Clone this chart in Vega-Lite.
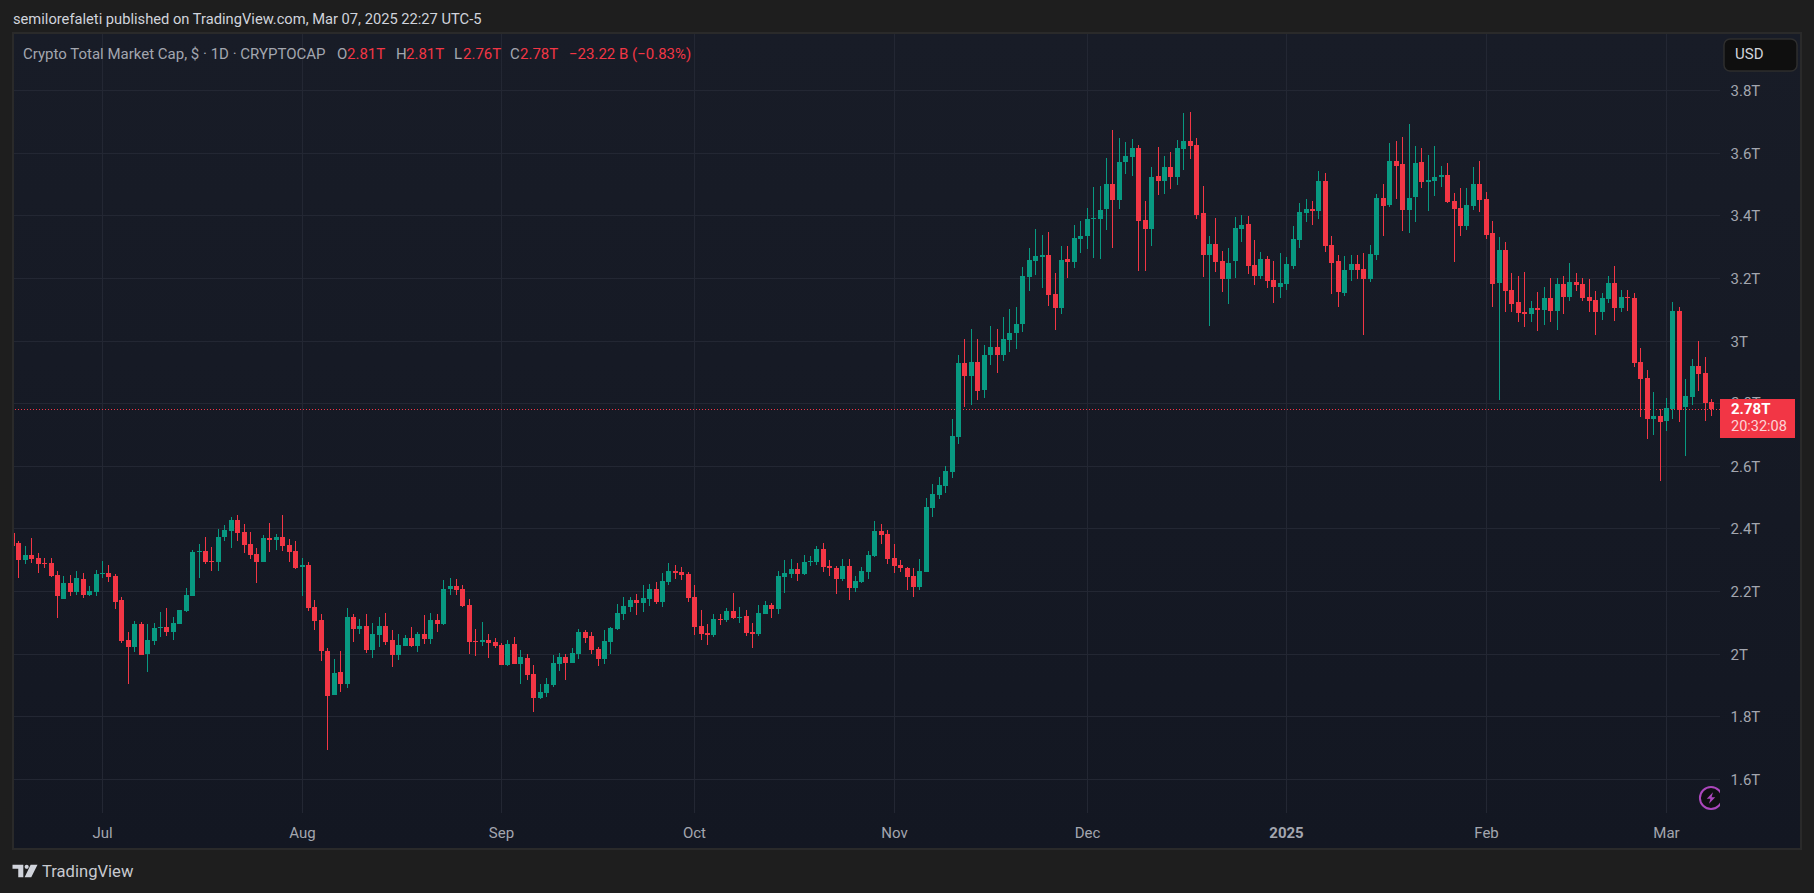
{
"$schema":"https://vega.github.io/schema/vega-lite/v6.json",
"width":1707,"height":780,
"autosize":"none",
"padding":{"left":13,"top":33,"right":94,"bottom":80},
"background":"#1e1e1e",
"config":{"view":{"stroke":null},"font":"Roboto"},
"datasets":{
"panel":[{"x0":"2024-06-17T04:00:00Z","x1":"2025-03-22T00:00:00Z","p0":3.982,"p1":1.3765}],
"levels":[{"price":1.6},{"price":1.8},{"price":2.0},{"price":2.2},{"price":2.4},{"price":2.6},{"price":2.8},{"price":3.0},{"price":3.2},{"price":3.4},{"price":3.6},{"price":3.8}],
"months":[{"date":"2024-07-01"},{"date":"2024-08-01"},{"date":"2024-09-01"},{"date":"2024-10-01"},{"date":"2024-11-01"},{"date":"2024-12-01"},{"date":"2025-01-01"},{"date":"2025-02-01"},{"date":"2025-03-01"}],
"candles":[
{"date":"2024-06-17","open":2.385,"high":2.385,"low":2.345,"close":2.345},
{"date":"2024-06-18","open":2.354,"high":2.36,"low":2.242,"close":2.299},
{"date":"2024-06-19","open":2.299,"high":2.344,"low":2.287,"close":2.315},
{"date":"2024-06-20","open":2.315,"high":2.37,"low":2.29,"close":2.303},
{"date":"2024-06-21","open":2.306,"high":2.322,"low":2.258,"close":2.287},
{"date":"2024-06-22","open":2.29,"high":2.306,"low":2.274,"close":2.287},
{"date":"2024-06-23","open":2.29,"high":2.306,"low":2.245,"close":2.248},
{"date":"2024-06-24","open":2.252,"high":2.264,"low":2.114,"close":2.184},
{"date":"2024-06-25","open":2.175,"high":2.248,"low":2.175,"close":2.226},
{"date":"2024-06-26","open":2.226,"high":2.252,"low":2.184,"close":2.197},
{"date":"2024-06-27","open":2.197,"high":2.264,"low":2.188,"close":2.242},
{"date":"2024-06-28","open":2.239,"high":2.258,"low":2.178,"close":2.188},
{"date":"2024-06-29","open":2.188,"high":2.216,"low":2.184,"close":2.2},
{"date":"2024-06-30","open":2.197,"high":2.267,"low":2.184,"close":2.255},
{"date":"2024-07-01","open":2.255,"high":2.296,"low":2.242,"close":2.258},
{"date":"2024-07-02","open":2.258,"high":2.283,"low":2.229,"close":2.245},
{"date":"2024-07-03","open":2.248,"high":2.255,"low":2.143,"close":2.165},
{"date":"2024-07-04","open":2.172,"high":2.181,"low":2.034,"close":2.041},
{"date":"2024-07-05","open":2.044,"high":2.069,"low":1.903,"close":2.021},
{"date":"2024-07-06","open":2.021,"high":2.105,"low":2.005,"close":2.095},
{"date":"2024-07-07","open":2.095,"high":2.101,"low":1.996,"close":1.996},
{"date":"2024-07-08","open":1.999,"high":2.095,"low":1.942,"close":2.044},
{"date":"2024-07-09","open":2.041,"high":2.098,"low":2.028,"close":2.082},
{"date":"2024-07-10","open":2.082,"high":2.133,"low":2.053,"close":2.085},
{"date":"2024-07-11","open":2.085,"high":2.146,"low":2.057,"close":2.069},
{"date":"2024-07-12","open":2.069,"high":2.117,"low":2.044,"close":2.098},
{"date":"2024-07-13","open":2.095,"high":2.14,"low":2.095,"close":2.14},
{"date":"2024-07-14","open":2.137,"high":2.21,"low":2.133,"close":2.188},
{"date":"2024-07-15","open":2.184,"high":2.331,"low":2.184,"close":2.325},
{"date":"2024-07-16","open":2.325,"high":2.351,"low":2.242,"close":2.328},
{"date":"2024-07-17","open":2.328,"high":2.373,"low":2.287,"close":2.293},
{"date":"2024-07-18","open":2.296,"high":2.341,"low":2.264,"close":2.293},
{"date":"2024-07-19","open":2.293,"high":2.398,"low":2.264,"close":2.373},
{"date":"2024-07-20","open":2.373,"high":2.411,"low":2.36,"close":2.395},
{"date":"2024-07-21","open":2.392,"high":2.437,"low":2.338,"close":2.427},
{"date":"2024-07-22","open":2.427,"high":2.443,"low":2.36,"close":2.386},
{"date":"2024-07-23","open":2.389,"high":2.414,"low":2.322,"close":2.347},
{"date":"2024-07-24","open":2.351,"high":2.389,"low":2.303,"close":2.315},
{"date":"2024-07-25","open":2.319,"high":2.338,"low":2.226,"close":2.293},
{"date":"2024-07-26","open":2.293,"high":2.379,"low":2.293,"close":2.37},
{"date":"2024-07-27","open":2.37,"high":2.418,"low":2.325,"close":2.363},
{"date":"2024-07-28","open":2.363,"high":2.383,"low":2.331,"close":2.373},
{"date":"2024-07-29","open":2.373,"high":2.443,"low":2.328,"close":2.344},
{"date":"2024-07-30","open":2.347,"high":2.367,"low":2.293,"close":2.325},
{"date":"2024-07-31","open":2.328,"high":2.36,"low":2.271,"close":2.274},
{"date":"2024-08-01","open":2.277,"high":2.306,"low":2.184,"close":2.283},
{"date":"2024-08-02","open":2.283,"high":2.293,"low":2.137,"close":2.146},
{"date":"2024-08-03","open":2.149,"high":2.172,"low":2.076,"close":2.105},
{"date":"2024-08-04","open":2.108,"high":2.127,"low":1.977,"close":2.009},
{"date":"2024-08-05","open":2.009,"high":2.018,"low":1.692,"close":1.865},
{"date":"2024-08-06","open":1.868,"high":1.983,"low":1.868,"close":1.938},
{"date":"2024-08-07","open":1.942,"high":2.009,"low":1.878,"close":1.903},
{"date":"2024-08-08","open":1.903,"high":2.146,"low":1.89,"close":2.117},
{"date":"2024-08-09","open":2.117,"high":2.127,"low":2.037,"close":2.079},
{"date":"2024-08-10","open":2.079,"high":2.111,"low":2.063,"close":2.089},
{"date":"2024-08-11","open":2.089,"high":2.127,"low":2.002,"close":2.012},
{"date":"2024-08-12","open":2.012,"high":2.098,"low":1.986,"close":2.063},
{"date":"2024-08-13","open":2.06,"high":2.117,"low":2.021,"close":2.089},
{"date":"2024-08-14","open":2.089,"high":2.13,"low":2.028,"close":2.037},
{"date":"2024-08-15","open":2.044,"high":2.076,"low":1.958,"close":1.996},
{"date":"2024-08-16","open":1.996,"high":2.063,"low":1.98,"close":2.028},
{"date":"2024-08-17","open":2.025,"high":2.06,"low":2.025,"close":2.05},
{"date":"2024-08-18","open":2.05,"high":2.085,"low":2.021,"close":2.025},
{"date":"2024-08-19","open":2.025,"high":2.069,"low":2.005,"close":2.063},
{"date":"2024-08-20","open":2.063,"high":2.124,"low":2.031,"close":2.047},
{"date":"2024-08-21","open":2.047,"high":2.13,"low":2.031,"close":2.108},
{"date":"2024-08-22","open":2.108,"high":2.127,"low":2.069,"close":2.095},
{"date":"2024-08-23","open":2.095,"high":2.236,"low":2.092,"close":2.207},
{"date":"2024-08-24","open":2.207,"high":2.242,"low":2.188,"close":2.216},
{"date":"2024-08-25","open":2.216,"high":2.239,"low":2.188,"close":2.204},
{"date":"2024-08-26","open":2.207,"high":2.22,"low":2.149,"close":2.152},
{"date":"2024-08-27","open":2.156,"high":2.175,"low":1.999,"close":2.037},
{"date":"2024-08-28","open":2.041,"high":2.079,"low":1.993,"close":2.037},
{"date":"2024-08-29","open":2.037,"high":2.101,"low":2.025,"close":2.044},
{"date":"2024-08-30","open":2.044,"high":2.063,"low":1.986,"close":2.034},
{"date":"2024-08-31","open":2.037,"high":2.05,"low":2.018,"close":2.025},
{"date":"2024-09-01","open":2.028,"high":2.034,"low":1.964,"close":1.964},
{"date":"2024-09-02","open":1.964,"high":2.044,"low":1.961,"close":2.031},
{"date":"2024-09-03","open":2.031,"high":2.053,"low":1.967,"close":1.967},
{"date":"2024-09-04","open":1.967,"high":2.012,"low":1.903,"close":1.99},
{"date":"2024-09-05","open":1.986,"high":1.999,"low":1.916,"close":1.932},
{"date":"2024-09-06","open":1.935,"high":1.964,"low":1.814,"close":1.858},
{"date":"2024-09-07","open":1.858,"high":1.903,"low":1.855,"close":1.878},
{"date":"2024-09-08","open":1.874,"high":1.922,"low":1.862,"close":1.903},
{"date":"2024-09-09","open":1.9,"high":1.996,"low":1.894,"close":1.97},
{"date":"2024-09-10","open":1.967,"high":2.002,"low":1.945,"close":1.99},
{"date":"2024-09-11","open":1.99,"high":1.999,"low":1.916,"close":1.97},
{"date":"2024-09-12","open":1.97,"high":2.018,"low":1.97,"close":2.002},
{"date":"2024-09-13","open":1.999,"high":2.079,"low":1.983,"close":2.069},
{"date":"2024-09-14","open":2.069,"high":2.076,"low":2.034,"close":2.05},
{"date":"2024-09-15","open":2.057,"high":2.069,"low":1.999,"close":2.012},
{"date":"2024-09-16","open":2.015,"high":2.021,"low":1.961,"close":1.983},
{"date":"2024-09-17","open":1.983,"high":2.076,"low":1.967,"close":2.041},
{"date":"2024-09-18","open":2.037,"high":2.085,"low":1.999,"close":2.082},
{"date":"2024-09-19","open":2.079,"high":2.159,"low":2.076,"close":2.13},
{"date":"2024-09-20","open":2.127,"high":2.181,"low":2.108,"close":2.152},
{"date":"2024-09-21","open":2.149,"high":2.181,"low":2.133,"close":2.172},
{"date":"2024-09-22","open":2.172,"high":2.191,"low":2.124,"close":2.162},
{"date":"2024-09-23","open":2.162,"high":2.22,"low":2.133,"close":2.178},
{"date":"2024-09-24","open":2.175,"high":2.223,"low":2.152,"close":2.207},
{"date":"2024-09-25","open":2.207,"high":2.229,"low":2.159,"close":2.165},
{"date":"2024-09-26","open":2.165,"high":2.258,"low":2.149,"close":2.232},
{"date":"2024-09-27","open":2.229,"high":2.29,"low":2.22,"close":2.264},
{"date":"2024-09-28","open":2.264,"high":2.283,"low":2.239,"close":2.258},
{"date":"2024-09-29","open":2.261,"high":2.277,"low":2.236,"close":2.252},
{"date":"2024-09-30","open":2.255,"high":2.261,"low":2.165,"close":2.178},
{"date":"2024-10-01","open":2.181,"high":2.22,"low":2.06,"close":2.085},
{"date":"2024-10-02","open":2.089,"high":2.14,"low":2.044,"close":2.063},
{"date":"2024-10-03","open":2.066,"high":2.095,"low":2.028,"close":2.06},
{"date":"2024-10-04","open":2.06,"high":2.127,"low":2.053,"close":2.111},
{"date":"2024-10-05","open":2.111,"high":2.127,"low":2.092,"close":2.108},
{"date":"2024-10-06","open":2.108,"high":2.146,"low":2.101,"close":2.137},
{"date":"2024-10-07","open":2.137,"high":2.194,"low":2.111,"close":2.114},
{"date":"2024-10-08","open":2.114,"high":2.149,"low":2.098,"close":2.117},
{"date":"2024-10-09","open":2.121,"high":2.14,"low":2.057,"close":2.066},
{"date":"2024-10-10","open":2.069,"high":2.098,"low":2.018,"close":2.063},
{"date":"2024-10-11","open":2.063,"high":2.156,"low":2.057,"close":2.13},
{"date":"2024-10-12","open":2.127,"high":2.168,"low":2.127,"close":2.156},
{"date":"2024-10-13","open":2.156,"high":2.162,"low":2.114,"close":2.143},
{"date":"2024-10-14","open":2.143,"high":2.264,"low":2.127,"close":2.248},
{"date":"2024-10-15","open":2.245,"high":2.299,"low":2.194,"close":2.258},
{"date":"2024-10-16","open":2.255,"high":2.303,"low":2.242,"close":2.271},
{"date":"2024-10-17","open":2.271,"high":2.29,"low":2.232,"close":2.255},
{"date":"2024-10-18","open":2.255,"high":2.315,"low":2.252,"close":2.293},
{"date":"2024-10-19","open":2.293,"high":2.312,"low":2.28,"close":2.296},
{"date":"2024-10-20","open":2.293,"high":2.344,"low":2.283,"close":2.335},
{"date":"2024-10-21","open":2.335,"high":2.354,"low":2.261,"close":2.277},
{"date":"2024-10-22","open":2.28,"high":2.299,"low":2.248,"close":2.274},
{"date":"2024-10-23","open":2.274,"high":2.28,"low":2.191,"close":2.239},
{"date":"2024-10-24","open":2.239,"high":2.303,"low":2.232,"close":2.28},
{"date":"2024-10-25","open":2.28,"high":2.303,"low":2.172,"close":2.21},
{"date":"2024-10-26","open":2.21,"high":2.248,"low":2.197,"close":2.232},
{"date":"2024-10-27","open":2.229,"high":2.277,"low":2.226,"close":2.264},
{"date":"2024-10-28","open":2.261,"high":2.328,"low":2.239,"close":2.315},
{"date":"2024-10-29","open":2.312,"high":2.424,"low":2.309,"close":2.392},
{"date":"2024-10-30","open":2.392,"high":2.414,"low":2.351,"close":2.379},
{"date":"2024-10-31","open":2.383,"high":2.395,"low":2.287,"close":2.303},
{"date":"2024-11-01","open":2.306,"high":2.351,"low":2.258,"close":2.28},
{"date":"2024-11-02","open":2.283,"high":2.299,"low":2.261,"close":2.274},
{"date":"2024-11-03","open":2.274,"high":2.277,"low":2.204,"close":2.245},
{"date":"2024-11-04","open":2.248,"high":2.274,"low":2.181,"close":2.213},
{"date":"2024-11-05","open":2.213,"high":2.303,"low":2.204,"close":2.264},
{"date":"2024-11-06","open":2.261,"high":2.498,"low":2.261,"close":2.469},
{"date":"2024-11-07","open":2.466,"high":2.542,"low":2.437,"close":2.51},
{"date":"2024-11-08","open":2.507,"high":2.565,"low":2.494,"close":2.539},
{"date":"2024-11-09","open":2.536,"high":2.6,"low":2.514,"close":2.584},
{"date":"2024-11-10","open":2.581,"high":2.75,"low":2.561,"close":2.696},
{"date":"2024-11-11","open":2.692,"high":2.954,"low":2.67,"close":2.929},
{"date":"2024-11-12","open":2.929,"high":3.005,"low":2.788,"close":2.887},
{"date":"2024-11-13","open":2.887,"high":3.037,"low":2.795,"close":2.932},
{"date":"2024-11-14","open":2.932,"high":3.005,"low":2.811,"close":2.839},
{"date":"2024-11-15","open":2.842,"high":2.986,"low":2.817,"close":2.954},
{"date":"2024-11-16","open":2.954,"high":3.047,"low":2.922,"close":2.98},
{"date":"2024-11-17","open":2.98,"high":3.037,"low":2.897,"close":2.954},
{"date":"2024-11-18","open":2.954,"high":3.076,"low":2.935,"close":3.005},
{"date":"2024-11-19","open":3.002,"high":3.101,"low":2.964,"close":3.025},
{"date":"2024-11-20","open":3.025,"high":3.108,"low":2.973,"close":3.053},
{"date":"2024-11-21","open":3.053,"high":3.235,"low":3.028,"close":3.207},
{"date":"2024-11-22","open":3.204,"high":3.296,"low":3.159,"close":3.258},
{"date":"2024-11-23","open":3.255,"high":3.357,"low":3.21,"close":3.271},
{"date":"2024-11-24","open":3.267,"high":3.338,"low":3.168,"close":3.274},
{"date":"2024-11-25","open":3.274,"high":3.347,"low":3.111,"close":3.146},
{"date":"2024-11-26","open":3.149,"high":3.216,"low":3.034,"close":3.104},
{"date":"2024-11-27","open":3.104,"high":3.303,"low":3.085,"close":3.258},
{"date":"2024-11-28","open":3.261,"high":3.303,"low":3.2,"close":3.251},
{"date":"2024-11-29","open":3.251,"high":3.37,"low":3.232,"close":3.328},
{"date":"2024-11-30","open":3.325,"high":3.382,"low":3.28,"close":3.335},
{"date":"2024-12-01","open":3.335,"high":3.424,"low":3.293,"close":3.389},
{"date":"2024-12-02","open":3.389,"high":3.491,"low":3.264,"close":3.392},
{"date":"2024-12-03","open":3.389,"high":3.494,"low":3.261,"close":3.418},
{"date":"2024-12-04","open":3.421,"high":3.584,"low":3.354,"close":3.501},
{"date":"2024-12-05","open":3.501,"high":3.673,"low":3.296,"close":3.45},
{"date":"2024-12-06","open":3.45,"high":3.648,"low":3.421,"close":3.571},
{"date":"2024-12-07","open":3.571,"high":3.635,"low":3.533,"close":3.59},
{"date":"2024-12-08","open":3.587,"high":3.644,"low":3.526,"close":3.616},
{"date":"2024-12-09","open":3.616,"high":3.625,"low":3.223,"close":3.382},
{"date":"2024-12-10","open":3.386,"high":3.446,"low":3.223,"close":3.357},
{"date":"2024-12-11","open":3.357,"high":3.555,"low":3.303,"close":3.523},
{"date":"2024-12-12","open":3.526,"high":3.619,"low":3.466,"close":3.51},
{"date":"2024-12-13","open":3.51,"high":3.59,"low":3.469,"close":3.555},
{"date":"2024-12-14","open":3.555,"high":3.603,"low":3.485,"close":3.523},
{"date":"2024-12-15","open":3.523,"high":3.641,"low":3.497,"close":3.616},
{"date":"2024-12-16","open":3.612,"high":3.728,"low":3.545,"close":3.638},
{"date":"2024-12-17","open":3.638,"high":3.731,"low":3.581,"close":3.622},
{"date":"2024-12-18","open":3.625,"high":3.648,"low":3.389,"close":3.402},
{"date":"2024-12-19","open":3.408,"high":3.494,"low":3.204,"close":3.274},
{"date":"2024-12-20","open":3.274,"high":3.335,"low":3.047,"close":3.309},
{"date":"2024-12-21","open":3.309,"high":3.392,"low":3.22,"close":3.251},
{"date":"2024-12-22","open":3.255,"high":3.287,"low":3.156,"close":3.197},
{"date":"2024-12-23","open":3.197,"high":3.296,"low":3.117,"close":3.248},
{"date":"2024-12-24","open":3.255,"high":3.395,"low":3.2,"close":3.36},
{"date":"2024-12-25","open":3.357,"high":3.402,"low":3.315,"close":3.37},
{"date":"2024-12-26","open":3.373,"high":3.398,"low":3.213,"close":3.239},
{"date":"2024-12-27","open":3.242,"high":3.322,"low":3.178,"close":3.207},
{"date":"2024-12-28","open":3.207,"high":3.283,"low":3.197,"close":3.261},
{"date":"2024-12-29","open":3.261,"high":3.271,"low":3.168,"close":3.191},
{"date":"2024-12-30","open":3.194,"high":3.255,"low":3.12,"close":3.171},
{"date":"2024-12-31","open":3.171,"high":3.28,"low":3.136,"close":3.184},
{"date":"2025-01-01","open":3.181,"high":3.267,"low":3.162,"close":3.245},
{"date":"2025-01-02","open":3.239,"high":3.366,"low":3.229,"close":3.325},
{"date":"2025-01-03","open":3.322,"high":3.44,"low":3.296,"close":3.411},
{"date":"2025-01-04","open":3.408,"high":3.453,"low":3.379,"close":3.421},
{"date":"2025-01-05","open":3.421,"high":3.446,"low":3.37,"close":3.414},
{"date":"2025-01-06","open":3.414,"high":3.542,"low":3.389,"close":3.51},
{"date":"2025-01-07","open":3.51,"high":3.536,"low":3.283,"close":3.303},
{"date":"2025-01-08","open":3.306,"high":3.335,"low":3.149,"close":3.248},
{"date":"2025-01-09","open":3.255,"high":3.274,"low":3.108,"close":3.156},
{"date":"2025-01-10","open":3.152,"high":3.271,"low":3.143,"close":3.226},
{"date":"2025-01-11","open":3.226,"high":3.274,"low":3.191,"close":3.245},
{"date":"2025-01-12","open":3.245,"high":3.274,"low":3.197,"close":3.226},
{"date":"2025-01-13","open":3.229,"high":3.28,"low":3.018,"close":3.197},
{"date":"2025-01-14","open":3.197,"high":3.306,"low":3.188,"close":3.277},
{"date":"2025-01-15","open":3.274,"high":3.469,"low":3.258,"close":3.456},
{"date":"2025-01-16","open":3.456,"high":3.501,"low":3.335,"close":3.43},
{"date":"2025-01-17","open":3.434,"high":3.632,"low":3.427,"close":3.574},
{"date":"2025-01-18","open":3.574,"high":3.638,"low":3.453,"close":3.558},
{"date":"2025-01-19","open":3.565,"high":3.651,"low":3.351,"close":3.418},
{"date":"2025-01-20","open":3.418,"high":3.692,"low":3.344,"close":3.456},
{"date":"2025-01-21","open":3.459,"high":3.622,"low":3.379,"close":3.568},
{"date":"2025-01-22","open":3.571,"high":3.616,"low":3.488,"close":3.507},
{"date":"2025-01-23","open":3.507,"high":3.593,"low":3.414,"close":3.513},
{"date":"2025-01-24","open":3.51,"high":3.622,"low":3.462,"close":3.523},
{"date":"2025-01-25","open":3.523,"high":3.558,"low":3.491,"close":3.529},
{"date":"2025-01-26","open":3.529,"high":3.568,"low":3.44,"close":3.443},
{"date":"2025-01-27","open":3.446,"high":3.472,"low":3.251,"close":3.421},
{"date":"2025-01-28","open":3.424,"high":3.488,"low":3.335,"close":3.366},
{"date":"2025-01-29","open":3.366,"high":3.488,"low":3.354,"close":3.434},
{"date":"2025-01-30","open":3.43,"high":3.555,"low":3.418,"close":3.501},
{"date":"2025-01-31","open":3.501,"high":3.574,"low":3.411,"close":3.45},
{"date":"2025-02-01","open":3.453,"high":3.475,"low":3.325,"close":3.338},
{"date":"2025-02-02","open":3.344,"high":3.382,"low":3.108,"close":3.181},
{"date":"2025-02-03","open":3.184,"high":3.331,"low":2.811,"close":3.29},
{"date":"2025-02-04","open":3.29,"high":3.315,"low":3.092,"close":3.159},
{"date":"2025-02-05","open":3.162,"high":3.216,"low":3.092,"close":3.117},
{"date":"2025-02-06","open":3.124,"high":3.207,"low":3.06,"close":3.089},
{"date":"2025-02-07","open":3.092,"high":3.22,"low":3.044,"close":3.085},
{"date":"2025-02-08","open":3.085,"high":3.127,"low":3.06,"close":3.104},
{"date":"2025-02-09","open":3.104,"high":3.156,"low":3.031,"close":3.098},
{"date":"2025-02-10","open":3.098,"high":3.172,"low":3.05,"close":3.136},
{"date":"2025-02-11","open":3.136,"high":3.2,"low":3.06,"close":3.095},
{"date":"2025-02-12","open":3.095,"high":3.2,"low":3.034,"close":3.181},
{"date":"2025-02-13","open":3.181,"high":3.207,"low":3.085,"close":3.14},
{"date":"2025-02-14","open":3.14,"high":3.248,"low":3.127,"close":3.188},
{"date":"2025-02-15","open":3.188,"high":3.216,"low":3.159,"close":3.178},
{"date":"2025-02-16","open":3.181,"high":3.2,"low":3.127,"close":3.136},
{"date":"2025-02-17","open":3.14,"high":3.197,"low":3.092,"close":3.127},
{"date":"2025-02-18","open":3.13,"high":3.159,"low":3.018,"close":3.092},
{"date":"2025-02-19","open":3.092,"high":3.152,"low":3.066,"close":3.136},
{"date":"2025-02-20","open":3.133,"high":3.207,"low":3.12,"close":3.184},
{"date":"2025-02-21","open":3.184,"high":3.239,"low":3.063,"close":3.104},
{"date":"2025-02-22","open":3.104,"high":3.162,"low":3.092,"close":3.14},
{"date":"2025-02-23","open":3.14,"high":3.162,"low":3.095,"close":3.136},
{"date":"2025-02-24","open":3.136,"high":3.152,"low":2.916,"close":2.929},
{"date":"2025-02-25","open":2.932,"high":2.977,"low":2.756,"close":2.878},
{"date":"2025-02-26","open":2.881,"high":2.906,"low":2.686,"close":2.75},
{"date":"2025-02-27","open":2.75,"high":2.836,"low":2.699,"close":2.759},
{"date":"2025-02-28","open":2.759,"high":2.782,"low":2.552,"close":2.74},
{"date":"2025-03-01","open":2.743,"high":2.817,"low":2.712,"close":2.785},
{"date":"2025-03-02","open":2.782,"high":3.124,"low":2.75,"close":3.095},
{"date":"2025-03-03","open":3.095,"high":3.108,"low":2.74,"close":2.779},
{"date":"2025-03-04","open":2.788,"high":2.878,"low":2.632,"close":2.823},
{"date":"2025-03-05","open":2.82,"high":2.942,"low":2.795,"close":2.919},
{"date":"2025-03-06","open":2.919,"high":2.999,"low":2.839,"close":2.894},
{"date":"2025-03-07","open":2.897,"high":2.948,"low":2.743,"close":2.801},
{"date":"2025-03-08","open":2.804,"high":2.814,"low":2.759,"close":2.78}
]
},
"layer":[
{"data":{"name":"panel"},
 "mark":{"type":"rect","color":{"gradient":"linear","x1":0,"y1":0,"x2":0,"y2":1,"stops":[{"offset":0,"color":"#181c27"},{"offset":1,"color":"#131722"}]}},
 "encoding":{
  "x":{"field":"x0","type":"temporal","title":null,
   "scale":{"type":"utc","domain":["2024-06-17T04:00:00Z","2025-03-09T09:36:00Z"],"round":true,"nice":false,"padding":0},
   "axis":{"zindex":1,"grid":false,"domain":false,"ticks":false,"labelOverlap":false,"labelFlush":false,"labelPadding":12,"labelFontSize":15,"labelColor":"#a3a6af","labelFont":"Roboto",
    "values":["2024-07-01","2024-08-01","2024-09-01","2024-10-01","2024-11-01","2024-12-01","2025-01-01","2025-02-01","2025-03-01"],
    "labelExpr":"utcmonth(datum.value)===0 ? '2025' : utcFormat(datum.value,'%b')",
    "labelFontWeight":{"condition":{"test":"utcmonth(datum.value)===0","value":"bold"},"value":"normal"}}},
  "x2":{"field":"x1"},
  "y":{"field":"p0","type":"quantitative","title":null,
   "scale":{"domain":[1.4914,3.982],"round":true,"nice":false,"zero":false},
   "axis":{"orient":"right","zindex":1,"grid":false,"domain":false,"ticks":false,"labelOverlap":false,"labelFlush":false,"labelPadding":10,"labelFontSize":15,"labelColor":"#a3a6af","labelFont":"Roboto",
    "values":[1.6,1.8,2,2.2,2.4,2.6,3,3.2,3.4,3.6,3.8],
    "labelExpr":"datum.value + 'T'"}},
  "y2":{"field":"p1"}}},
{"data":{"name":"levels"},
 "mark":{"type":"rule","color":"#232733","strokeWidth":1,"yOffset":0.5},
 "encoding":{"y":{"field":"price","type":"quantitative","title":null}}},
{"data":{"name":"months"},
 "mark":{"type":"rule","color":"#232733","strokeWidth":1,"xOffset":0.5},
 "encoding":{"x":{"field":"date","type":"temporal","title":null}}},
{"data":{"values":[{"price":2.78}]},
 "mark":{"type":"rule","color":"#f23645","strokeWidth":1,"strokeDash":[1,2],"yOffset":0.5},
 "encoding":{"y":{"field":"price","type":"quantitative","title":null}}},
{"data":{"name":"candles"},
 "mark":{"type":"rule","strokeWidth":1,"xOffset":0.5,"clip":true},
 "encoding":{
  "x":{"field":"date","type":"temporal","title":null},
  "y":{"field":"low","type":"quantitative","title":null},
  "y2":{"field":"high"},
  "color":{"condition":{"test":"datum.close >= datum.open","value":"#089981"},"value":"#f23645"}}},
{"data":{"name":"candles"},
 "mark":{"type":"bar","size":5,"xOffset":0.5,"clip":true},
 "encoding":{
  "x":{"field":"date","type":"temporal","title":null},
  "y":{"field":"open","type":"quantitative","title":null},
  "y2":{"field":"close"},
  "color":{"condition":{"test":"datum.close >= datum.open","value":"#089981"},"value":"#f23645"}}},
{"data":{"values":[{"date":"2025-03-08","price":1.5403}]},
 "mark":{"type":"point","shape":"circle","size":490,"filled":false,"fill":"#0f0f12","fillOpacity":1,"stroke":"#ab47bc","strokeWidth":2,"opacity":1,"clip":true},
 "encoding":{"x":{"field":"date","type":"temporal","title":null},"y":{"field":"price","type":"quantitative","title":null}}},
{"data":{"values":[{"date":"2025-03-08","price":1.5403}]},
 "mark":{"type":"point","shape":"M.35-1L-.75.15H-.1L-.35 1L.75-.15H.1Z","size":128,"filled":true,"fill":"#ab47bc","opacity":1,"clip":true},
 "encoding":{"x":{"field":"date","type":"temporal","title":null},"y":{"field":"price","type":"quantitative","title":null}}},
{"data":{"values":[{"date":"2025-03-11T02:00:00Z","price":2.8,"label":"2.8T"}]},
 "mark":{"type":"text","align":"left","baseline":"middle","fontSize":15,"color":"#a3a6af"},
 "encoding":{"x":{"field":"date","type":"temporal","title":null},"y":{"field":"price","type":"quantitative","title":null},"text":{"field":"label"}}},
{"data":{"values":[{"x0":"2025-03-09T09:36:00Z","x1":"2025-03-21T01:00:00Z","p0":2.8134,"p1":2.6898}]},
 "mark":{"type":"rect","color":"#f23645"},
 "encoding":{"x":{"field":"x0","type":"temporal","title":null},"x2":{"field":"x1"},"y":{"field":"p0","type":"quantitative","title":null},"y2":{"field":"p1"}}},
{"data":{"values":[{"date":"2025-03-11T02:24:00Z","price":2.7815,"label":"2.78T"}]},
 "mark":{"type":"text","align":"left","baseline":"middle","fontSize":15,"fontWeight":"bold","color":"#ffffff"},
 "encoding":{"x":{"field":"date","type":"temporal","title":null},"y":{"field":"price","type":"quantitative","title":null},"text":{"field":"label"}}},
{"data":{"values":[{"date":"2025-03-11T02:24:00Z","price":2.724,"label":"20:32:08"}]},
 "mark":{"type":"text","align":"left","baseline":"middle","fontSize":14.5,"color":"#fbd3d7"},
 "encoding":{"x":{"field":"date","type":"temporal","title":null},"y":{"field":"price","type":"quantitative","title":null},"text":{"field":"label"}}},
{"data":{"values":[{"x0":"2025-03-10T00:00:00Z","x1":"2025-03-21T09:00:00Z","p0":3.9638,"p1":3.8597}]},
 "mark":{"type":"rect","fill":"#0f0f0f","stroke":"#2e2e2e","strokeWidth":1.5,"cornerRadius":6},
 "encoding":{"x":{"field":"x0","type":"temporal","title":null},"x2":{"field":"x1"},"y":{"field":"p0","type":"quantitative","title":null},"y2":{"field":"p1"}}},
{"data":{"values":[{"date":"2025-03-11T16:00:00Z","price":3.914,"label":"USD"}]},
 "mark":{"type":"text","align":"left","baseline":"middle","fontSize":15,"color":"#d1d4dc"},
 "encoding":{"x":{"field":"date","type":"temporal","title":null},"y":{"field":"price","type":"quantitative","title":null},"text":{"field":"label"}}},
{"data":{"name":"panel"},
 "mark":{"type":"rect","fill":null,"stroke":"#2a2a2a","strokeWidth":2},
 "encoding":{"x":{"field":"x0","type":"temporal","title":null},"x2":{"field":"x1"},"y":{"field":"p0","type":"quantitative","title":null},"y2":{"field":"p1"}}},
{"data":{"values":[
  {"date":"2024-06-18T17:00:00Z","price":3.915,"label":"Crypto Total Market Cap, $ · 1D · CRYPTOCAP","tone":"grey"},
  {"date":"2024-08-06T14:00:00Z","price":3.915,"label":"O","tone":"grey"},
  {"date":"2024-08-08T00:00:00Z","price":3.915,"label":"2.81T","tone":"red"},
  {"date":"2024-08-15T16:00:00Z","price":3.915,"label":"H","tone":"grey"},
  {"date":"2024-08-17T06:00:00Z","price":3.915,"label":"2.81T","tone":"red"},
  {"date":"2024-08-24T18:00:00Z","price":3.915,"label":"L","tone":"grey"},
  {"date":"2024-08-26T02:00:00Z","price":3.915,"label":"2.76T","tone":"red"},
  {"date":"2024-09-02T11:00:00Z","price":3.915,"label":"C","tone":"grey"},
  {"date":"2024-09-03T23:00:00Z","price":3.915,"label":"2.78T","tone":"red"},
  {"date":"2024-09-11T13:00:00Z","price":3.915,"label":"−23.22 B (−0.83%)","tone":"red"}
 ]},
 "mark":{"type":"text","align":"left","baseline":"middle","fontSize":15},
 "encoding":{
  "x":{"field":"date","type":"temporal","title":null},
  "y":{"field":"price","type":"quantitative","title":null},
  "text":{"field":"label"},
  "color":{"field":"tone","type":"nominal","legend":null,"scale":{"domain":["grey","red"],"range":["#a3a6af","#f23645"]}}}},
{"data":{"values":[{"date":"2024-06-17T04:00:00Z","price":4.0235,"label":"semilorefaleti published on TradingView.com, Mar 07, 2025 22:27 UTC-5"}]},
 "mark":{"type":"text","align":"left","baseline":"middle","fontSize":14.7,"color":"#d1d4dc"},
 "encoding":{"x":{"field":"date","type":"temporal","title":null},"y":{"field":"price","type":"quantitative","title":null},"text":{"field":"label"}}},
{"data":{"values":[{"date":"2024-06-19T01:00:00Z","price":1.306}]},
 "mark":{"type":"point","shape":"M-1-.5H-.135V.5H-.54V-.176H-1ZM-.03-.34a.165.165 0 1 0 .33 0a.165.165 0 1 0-.33 0ZM.45-.5H1L.5.5H-.03Z","size":625,"filled":true,"fill":"#d1d4dc","opacity":1},
 "encoding":{"x":{"field":"date","type":"temporal","title":null},"y":{"field":"price","type":"quantitative","title":null}}},
{"data":{"values":[{"date":"2024-06-21T16:00:00Z","price":1.303,"label":"TradingView"}]},
 "mark":{"type":"text","align":"left","baseline":"middle","fontSize":16.6,"color":"#c8cad0"},
 "encoding":{"x":{"field":"date","type":"temporal","title":null},"y":{"field":"price","type":"quantitative","title":null},"text":{"field":"label"}}}
]
}
